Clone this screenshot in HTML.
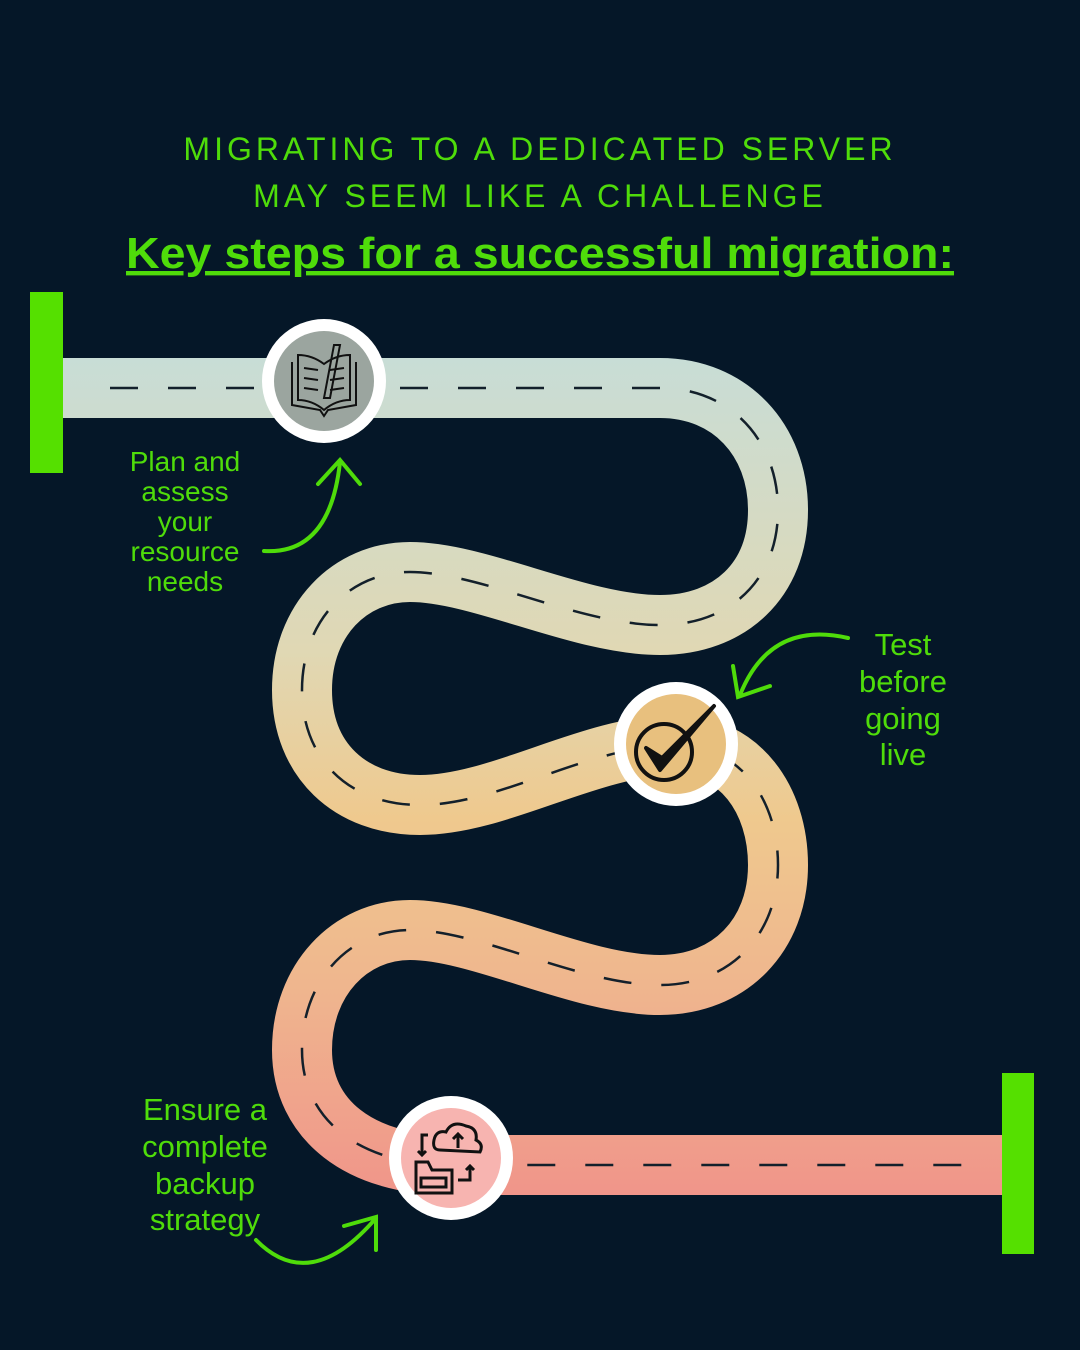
<!DOCTYPE html>
<html><head><meta charset="utf-8"><style>
html,body{margin:0;padding:0;background:#051728;}
svg{display:block}
</style></head><body>
<svg width="1080" height="1350" viewBox="0 0 1080 1350" xmlns="http://www.w3.org/2000/svg">
<defs>
<linearGradient id="rg" gradientUnits="userSpaceOnUse" x1="0" y1="358" x2="0" y2="1195">
<stop offset="0" stop-color="#c8ddd6"/>
<stop offset="0.35" stop-color="#e0d8b4"/>
<stop offset="0.55" stop-color="#efc98e"/>
<stop offset="0.75" stop-color="#efb68e"/>
<stop offset="1" stop-color="#f0958a"/>
</linearGradient>
</defs>
<rect width="1080" height="1350" fill="#051728"/>
<g font-family="Liberation Sans, sans-serif" fill="#4fdc0a" text-anchor="middle">
<text x="540" y="160" font-size="32" letter-spacing="4">MIGRATING TO A DEDICATED SERVER</text>
<text x="540" y="207" font-size="32" letter-spacing="4">MAY SEEM LIKE A CHALLENGE</text>
<text x="540" y="268" font-size="44" font-weight="bold" text-decoration="underline" textLength="828" lengthAdjust="spacingAndGlyphs">Key steps for a successful migration:</text>
</g>
<path d="M62,388 L660,388 C730,388 778,440 778,510 C778,580 730,625 660,625 C580,625 480,572 410,572 C350,572 302,620 302,690 C302,760 350,805 420,805 C500,805 590,745 676,745 C740,745 778,800 778,865 C778,935 730,985 660,985 C580,985 480,930 410,930 C350,930 302,980 302,1050 C302,1120 360,1165 450,1165 L1002,1165" fill="none" stroke="url(#rg)" stroke-width="60"/>
<path d="M110,388 L660,388 C730,388 778,440 778,510 C778,580 730,625 660,625 C580,625 480,572 410,572 C350,572 302,620 302,690 C302,760 350,805 420,805 C500,805 590,745 676,745 C740,745 778,800 778,865 C778,935 730,985 660,985 C580,985 480,930 410,930 C350,930 302,980 302,1050 C302,1120 360,1165 450,1165 L975,1165" fill="none" stroke="#13202b" stroke-width="2.5" stroke-dasharray="28,30"/>
<rect x="30" y="292" width="33" height="181" fill="#55e000"/>
<rect x="1002" y="1073" width="32" height="181" fill="#55e000"/>
<circle cx="324" cy="381" r="62" fill="#fff"/><circle cx="324" cy="381" r="50" fill="#9ba59f"/>
<g fill="none" stroke="#111" stroke-width="2">
<path d="M292,362 L292,405 L320,410 L324,416 L328,410 L356,405 L356,362 M298,355 L298,400 Q312,400 324,410 Q336,400 350,400 L350,355 Q336,355 324,364 Q312,355 298,355 Z M304,368 L318,370 M304,378 L318,380 M304,388 L318,390 M330,370 L344,368 M330,380 L344,378 M330,390 L344,388 M334,345 L324,398 L330,398 L340,345 Z"/>
</g>
<circle cx="676" cy="744" r="62" fill="#fff"/><circle cx="676" cy="744" r="50" fill="#e8c07e"/>
<circle cx="664" cy="752" r="28" fill="none" stroke="#111" stroke-width="4"/>
<path d="M646,748 L660,770 L714,706 L662,758 Z" fill="#111" stroke="#111" stroke-width="4" stroke-linejoin="round"/>
<circle cx="451" cy="1158" r="62" fill="#fff"/><circle cx="451" cy="1158" r="50" fill="#f7b4b0"/>
<g fill="none" stroke="#111" stroke-width="3">
<path d="M440,1150 Q432,1150 434,1140 Q436,1130 446,1132 Q452,1120 466,1126 Q478,1128 476,1140 Q484,1144 480,1152 Z M458,1148 L458,1134 M453,1139 L458,1134 L463,1139"/>
<path d="M428,1135 L422,1135 L422,1155 M418,1151 L422,1155 L426,1151"/>
<path d="M416,1162 L416,1193 L452,1193 L452,1170 L432,1170 L428,1162 Z M421,1178 L446,1178 L446,1187 L421,1187 Z"/>
<path d="M458,1180 L470,1180 L470,1166 M466,1170 L470,1166 L474,1170"/>
</g>
<g font-family="Liberation Sans, sans-serif" fill="#4fdc0a" text-anchor="middle" font-size="28">
<text x="185" y="471">Plan and</text>
<text x="185" y="501">assess</text>
<text x="185" y="531">your</text>
<text x="185" y="561">resource</text>
<text x="185" y="591">needs</text>
<text x="903" y="655" font-size="31">Test</text>
<text x="903" y="692" font-size="31">before</text>
<text x="903" y="729" font-size="31">going</text>
<text x="903" y="765" font-size="31">live</text>
<text x="205" y="1120" font-size="31">Ensure a</text>
<text x="205" y="1157" font-size="31">complete</text>
<text x="205" y="1194" font-size="31">backup</text>
<text x="205" y="1230" font-size="31">strategy</text>
</g>
<g fill="none" stroke="#4fdc0a" stroke-width="4" stroke-linecap="round">
<path d="M264,551 Q330,555 340,462 M318,484 L340,460 L360,484"/>
<path d="M848,638 Q770,620 740,695 M733,666 L738,697 L770,686"/>
<path d="M256,1240 Q310,1295 376,1218 M344,1226 L376,1217 L376,1250"/>
</g>
</svg>
</body></html>
